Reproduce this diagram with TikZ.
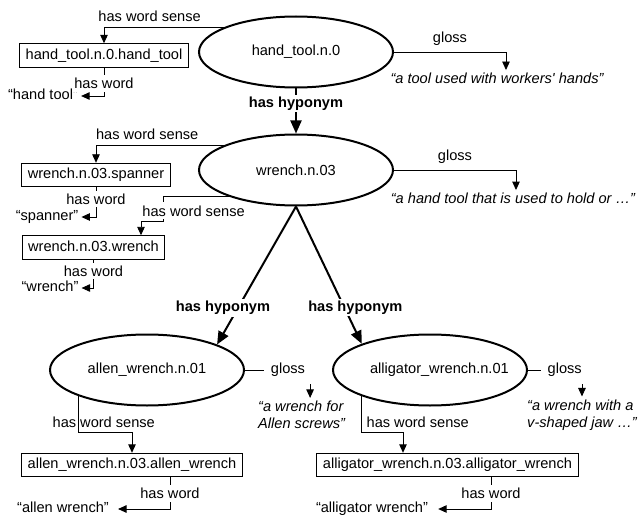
\documentclass[tikz,border=0pt]{standalone}
\usepackage{fontspec}
\setmainfont{Liberation Sans}
\newfontfamily\plainquote{Liberation Sans}[Ligatures=TeXOff]
\usetikzlibrary{arrows.meta,shapes.geometric}
\begin{document}
\begin{tikzpicture}[x=1pt,y=-1pt,
  font=\fontsize{14.6}{17}\selectfont,
  syn/.style={ellipse, draw, line width=2pt, minimum width=194pt, minimum height=71pt, inner sep=0pt, text width=120pt, align=center},
  sensebox/.style={draw, line width=0.9pt, inner xsep=6pt, inner ysep=5pt, text height=10.5pt, text depth=3pt},
  lemma/.style={inner sep=3pt, text height=10.5pt, text depth=3pt},
  glosstxt/.style={font=\fontsize{14.6}{17}\selectfont\itshape, inner sep=3pt, text height=10.5pt, text depth=3pt},
  glosstwo/.style={font=\fontsize{14.6}{17}\selectfont\itshape, inner sep=3pt, align=left, anchor=west},
  rel/.style={line width=0.9pt, -{Triangle[length=8.5pt,width=7.5pt]}},
  hyp/.style={line width=2pt, -{Triangle[length=13pt,width=11pt]}},
  lbl/.style={inner sep=2pt},
  lblw/.style={fill=white, inner xsep=2pt, inner ysep=3pt},
  glosslbl/.style={fill=white, inner xsep=7pt, inner ysep=7pt},
  hyplbl/.style={font=\fontsize{14.6}{17}\selectfont\bfseries, fill=white, inner sep=2pt}
]
\useasboundingbox (0,0) rectangle (640,516);

% synsets
\node[syn] (ht) at (296,52) {hand\_tool.n.0};
\node[syn] (wr) at (296,170) {wrench.n.03};
\node[syn] (al) at (147,370) {allen\_wrench.n.01};
\node[syn] (alg) at (430,370) {alligator\_wrench.n.01};

% word senses
\node[sensebox] (htbox) at (104,55.5) {hand\_tool.n.0.hand\_tool};
\node[sensebox] (spbox) at (96,175) {wrench.n.03.spanner};
\node[sensebox] (wrbox) at (93.5,247.5) {wrench.n.03.wrench};
\node[sensebox] (albox) at (132,465) {allen\_wrench.n.03.allen\_wrench};
\node[sensebox] (algbox) at (447.5,465) {alligator\_wrench.n.03.alligator\_wrench};

% words
\node[lemma] (htw) at (43,96) {“hand tool”};
\node[lemma] (spw) at (47,217) {“spanner”};
\node[lemma] (wrw) at (50,288) {“wrench”};
\node[lemma] (alw) at (63,509) {“allen wrench”};
\node[lemma] (algw) at (372,509) {“alligator wrench”};

% glosses
\node[glosstxt] (htg) at (497,80) {“a tool used with workers{\plainquote\itshape '} hands”};
\node[glosstxt] (wrg) at (513,200) {“a hand tool that is used to hold or …”};
\node[glosstwo] (algl) at (255,415) {“a wrench for\\Allen screws”};
\node[glosstwo] (aggl) at (524,415) {“a wrench with a\\v-shaped jaw …”};

% hyponym links
\draw[hyp] (ht.south) -- node[hyplbl, pos=0.33]{has hyponym} (wr.north);
\draw[hyp] (wr.south) -- node[hyplbl, pos=0.735, xshift=-15pt]{has hyponym} (al.20.6);
\draw[hyp] (wr.south) -- node[hyplbl, pos=0.735, xshift=11pt]{has hyponym} (alg.159);

% gloss links
\draw[rel] (ht.east) -| node[lbl, pos=0.25, above=4pt]{gloss} ([xshift=9pt]htg.north);
\draw[rel] (wr.east) -| node[lbl, pos=0.25, above=4pt]{gloss} ([xshift=3pt]wrg.north);
\draw[rel] (al.east) -| node[glosslbl, pos=0.33]{gloss} ([xshift=8.5pt]algl.north);
\draw[rel] (alg.east) -| node[glosslbl, pos=0.34]{gloss} (aggl.north);

% word sense links
\draw[rel] (ht.161.8) -| node[lbl, pos=0.31, above=3pt]{has word sense} (htbox.north);
\draw[rel] (wr.161.8) -| node[lbl, pos=0.30, above=3pt]{has word sense} (spbox.north);
\draw[rel] (wr.202) -- ++(-66,0) -- node[lblw, pos=0.56, xshift=30pt]{has word sense} ++(0,25) -| ([xshift=47.5pt]wrbox.north);
\draw[rel] (al.201) -- node[lbl, pos=0.72, xshift=25pt]{has word sense} ++(0,36) -| (albox.north);
\draw[rel] (alg.201) -- node[lbl, pos=0.72, xshift=56pt]{has word sense} ++(0,36) -| ([xshift=-44.5pt]algbox.north);

% word links
\draw[rel] (htbox.south) |- node[lblw, pos=0.28]{has word} (htw.east);
\draw[rel] (spbox.south) |- node[lblw, pos=0.2]{has word} (spw.east);
\draw[rel] (wrbox.south) |- node[lblw, pos=0.2]{has word} (wrw.east);
\draw[rel] ([xshift=38pt]albox.south) |- node[lblw, pos=0.26]{has word} ([xshift=6pt]alw.east);
\draw[rel] ([xshift=43.5pt]algbox.south) |- node[lblw, pos=0.26]{has word} ([xshift=7pt]algw.east);
\end{tikzpicture}
\end{document}
